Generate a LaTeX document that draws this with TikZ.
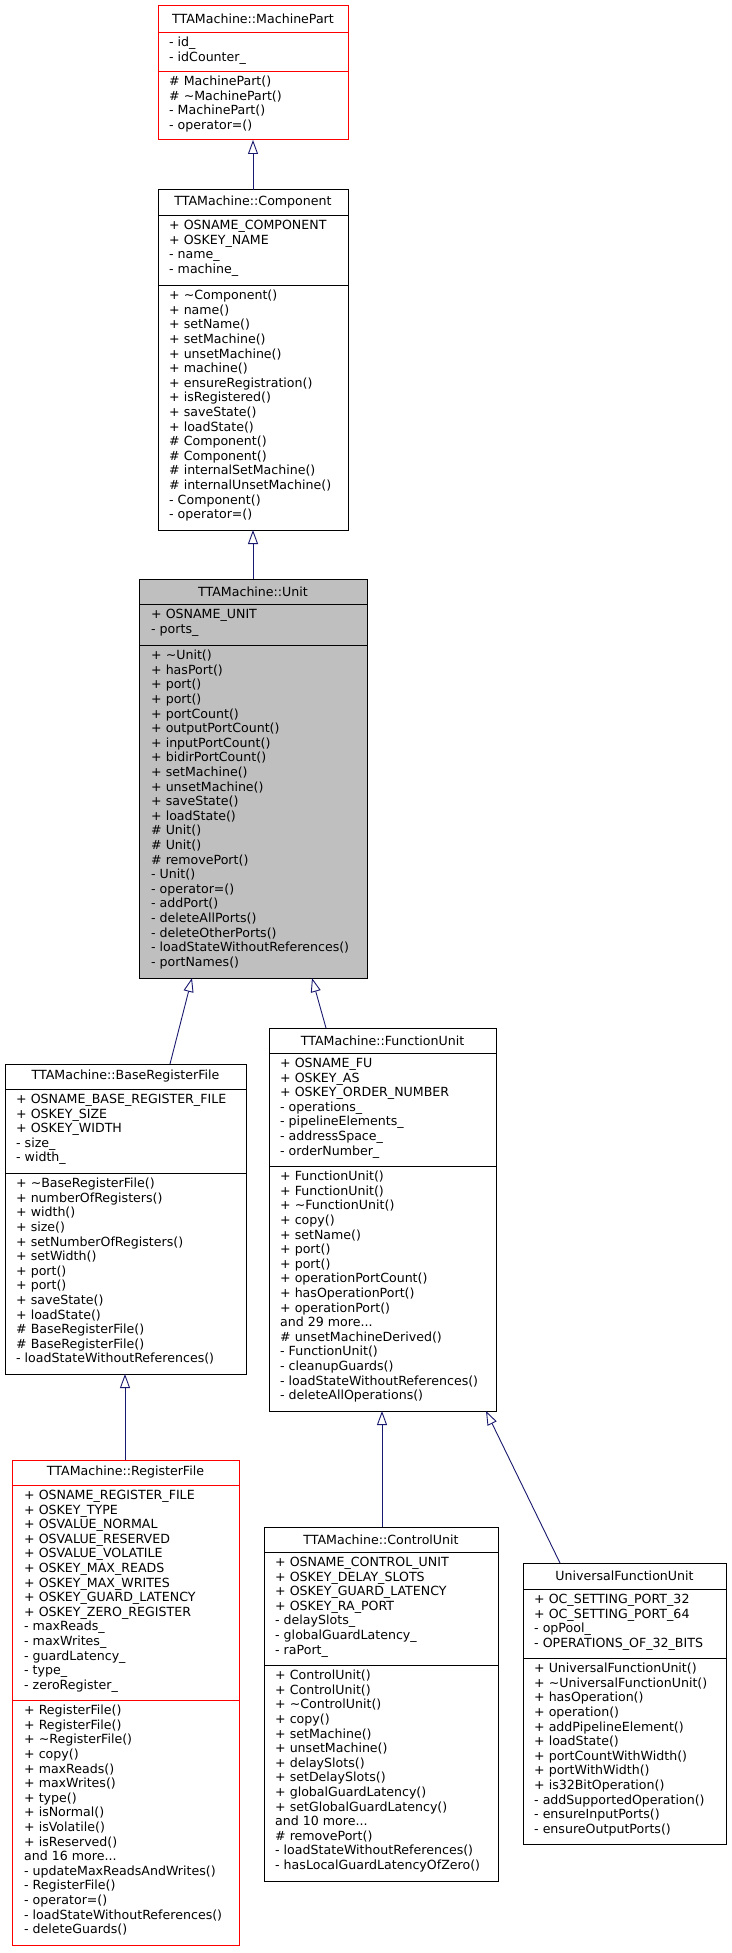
\documentclass[tikz,border=0pt]{standalone}
\usepackage{fontspec}
\setmainfont{DejaVu Sans}
\usetikzlibrary{arrows.meta,calc}
\definecolor{lien}{HTML}{191970}
\definecolor{gris}{HTML}{BFBFBF}
\newcommand{\umlbox}[9]{%
  \node[classe,#8,minimum width={(#4-#2)*1pt},minimum height={(#5-#3)*1pt}] (#1) at ({(#2+#4)/2},{(#3+#5)/2}) {};
  \draw[#8,fill=none] (#2,#6) -- (#4,#6) (#2,#7) -- (#4,#7);
  \node[titre] (#1-titre) at ({(#2+#4)/2},{(#3+#6)/2}) {#9};
}
\begin{document}
\begin{tikzpicture}[x=1pt,y=-1pt]
		\tikzstyle{classe}=[draw=black,fill=white,inner sep=0,outer sep=0,line width=1pt]
		\tikzstyle{rouge}=[draw=red]
		\tikzstyle{courant}=[fill=gris]
		\tikzstyle{titre}=[inner sep=0,font={\fontsize{12.6}{14}\selectfont}]
		\tikzstyle{liste}=[anchor=north west,inner sep=0,align=left,font={\fontsize{12.6}{14.6}\selectfont}]
		\tikzstyle{herite}=[lien,line width=0.9pt,-{Triangle[open,length=14pt,width=10pt]}]
		\def\t{\textasciitilde}
		\fill[white] (0,0) rectangle (731,1953);
		% classes
		\umlbox{mp}{158}{6}{348}{140}{32}{71}{rouge}{TTAMachine::MachinePart}
		\node[liste] (mp-a) at (169,37) {- id\_\\- idCounter\_};
		\node[liste] (mp-m) at (169,76) {\# MachinePart()\\\# \t MachinePart()\\- MachinePart()\\- operator=()};
		\umlbox{comp}{158}{190}{348}{530}{215}{285}{}{TTAMachine::Component}
		\node[liste] (comp-a) at (169,220) {+ OSNAME\_COMPONENT\\+ OSKEY\_NAME\\- name\_\\- machine\_};
		\node[liste] (comp-m) at (169,290) {+ \t Component()\\+ name()\\+ setName()\\+ setMachine()\\+ unsetMachine()\\+ machine()\\+ ensureRegistration()\\+ isRegistered()\\+ saveState()\\+ loadState()\\\# Component()\\\# Component()\\\# internalSetMachine()\\\# internalUnsetMachine()\\- Component()\\- operator=()};
		\umlbox{unit}{139}{579}{367}{978}{604}{645}{courant}{TTAMachine::Unit}
		\node[liste] (unit-a) at (151,609) {+ OSNAME\_UNIT\\- ports\_};
		\node[liste] (unit-m) at (151,650) {+ \t Unit()\\+ hasPort()\\+ port()\\+ port()\\+ portCount()\\+ outputPortCount()\\+ inputPortCount()\\+ bidirPortCount()\\+ setMachine()\\+ unsetMachine()\\+ saveState()\\+ loadState()\\\# Unit()\\\# Unit()\\\# removePort()\\- Unit()\\- operator=()\\- addPort()\\- deleteAllPorts()\\- deleteOtherPorts()\\- loadStateWithoutReferences()\\- portNames()};
		\umlbox{brf}{5}{1064}{246}{1374}{1089}{1173}{}{TTAMachine::BaseRegisterFile}
		\node[liste] (brf-a) at (16,1094) {+ OSNAME\_BASE\_REGISTER\_FILE\\+ OSKEY\_SIZE\\+ OSKEY\_WIDTH\\- size\_\\- width\_};
		\node[liste] (brf-m) at (16,1178) {+ \t BaseRegisterFile()\\+ numberOfRegisters()\\+ width()\\+ size()\\+ setNumberOfRegisters()\\+ setWidth()\\+ port()\\+ port()\\+ saveState()\\+ loadState()\\\# BaseRegisterFile()\\\# BaseRegisterFile()\\- loadStateWithoutReferences()};
		\umlbox{fu}{269}{1028}{496}{1411}{1053}{1166}{}{TTAMachine::FunctionUnit}
		\node[liste] (fu-a) at (280,1058) {+ OSNAME\_FU\\+ OSKEY\_AS\\+ OSKEY\_ORDER\_NUMBER\\- operations\_\\- pipelineElements\_\\- addressSpace\_\\- orderNumber\_};
		\node[liste] (fu-m) at (280,1171) {+ FunctionUnit()\\+ FunctionUnit()\\+ \t FunctionUnit()\\+ copy()\\+ setName()\\+ port()\\+ port()\\+ operationPortCount()\\+ hasOperationPort()\\+ operationPort()\\and 29 more...\\\# unsetMachineDerived()\\- FunctionUnit()\\- cleanupGuards()\\- loadStateWithoutReferences()\\- deleteAllOperations()};
		\umlbox{rf}{12}{1460}{239}{1945}{1485}{1700}{rouge}{TTAMachine::RegisterFile}
		\node[liste] (rf-a) at (24,1490) {+ OSNAME\_REGISTER\_FILE\\+ OSKEY\_TYPE\\+ OSVALUE\_NORMAL\\+ OSVALUE\_RESERVED\\+ OSVALUE\_VOLATILE\\+ OSKEY\_MAX\_READS\\+ OSKEY\_MAX\_WRITES\\+ OSKEY\_GUARD\_LATENCY\\+ OSKEY\_ZERO\_REGISTER\\- maxReads\_\\- maxWrites\_\\- guardLatency\_\\- type\_\\- zeroRegister\_};
		\node[liste] (rf-m) at (24,1705) {+ RegisterFile()\\+ RegisterFile()\\+ \t RegisterFile()\\+ copy()\\+ maxReads()\\+ maxWrites()\\+ type()\\+ isNormal()\\+ isVolatile()\\+ isReserved()\\and 16 more...\\- updateMaxReadsAndWrites()\\- RegisterFile()\\- operator=()\\- loadStateWithoutReferences()\\- deleteGuards()};
		\umlbox{cu}{264}{1527}{498}{1881}{1552}{1665}{}{TTAMachine::ControlUnit}
		\node[liste] (cu-a) at (275,1557) {+ OSNAME\_CONTROL\_UNIT\\+ OSKEY\_DELAY\_SLOTS\\+ OSKEY\_GUARD\_LATENCY\\+ OSKEY\_RA\_PORT\\- delaySlots\_\\- globalGuardLatency\_\\- raPort\_};
		\node[liste] (cu-m) at (275,1670) {+ ControlUnit()\\+ ControlUnit()\\+ \t ControlUnit()\\+ copy()\\+ setMachine()\\+ unsetMachine()\\+ delaySlots()\\+ setDelaySlots()\\+ globalGuardLatency()\\+ setGlobalGuardLatency()\\and 10 more...\\\# removePort()\\- loadStateWithoutReferences()\\- hasLocalGuardLatencyOfZero()};
		\umlbox{ufu}{523}{1563}{726}{1844}{1589}{1658}{}{UniversalFunctionUnit}
		\node[liste] (ufu-a) at (534,1594) {+ OC\_SETTING\_PORT\_32\\+ OC\_SETTING\_PORT\_64\\- opPool\_\\- OPERATIONS\_OF\_32\_BITS};
		\node[liste] (ufu-m) at (534,1663) {+ UniversalFunctionUnit()\\+ \t UniversalFunctionUnit()\\+ hasOperation()\\+ operation()\\+ addPipelineElement()\\+ loadState()\\+ portCountWithWidth()\\+ portWithWidth()\\+ is32BitOperation()\\- addSupportedOperation()\\- ensureInputPorts()\\- ensureOutputPorts()};
		% heritages
		\draw[herite] (comp.north) -- (mp.south);
		\draw[herite] (unit.north -| comp.north) -- (comp.south);
		\draw[herite] ($(brf.north west)+(165,0)$) -- ($(unit.south west)+(53,0)$);
		\draw[herite] ($(fu.north west)+(57,0)$) -- ($(unit.south west)+(173,0)$);
		\draw[herite] ($(rf.north west)+(113,0)$) -- ($(brf.south west)+(120,0)$);
		\draw[herite] ($(cu.north west)+(118,0)$) -- ($(fu.south west)+(113,0)$);
		\draw[herite] ($(ufu.north west)+(37,0)$) -- ($(fu.south west)+(217,0)$);
\end{tikzpicture}
\end{document}
